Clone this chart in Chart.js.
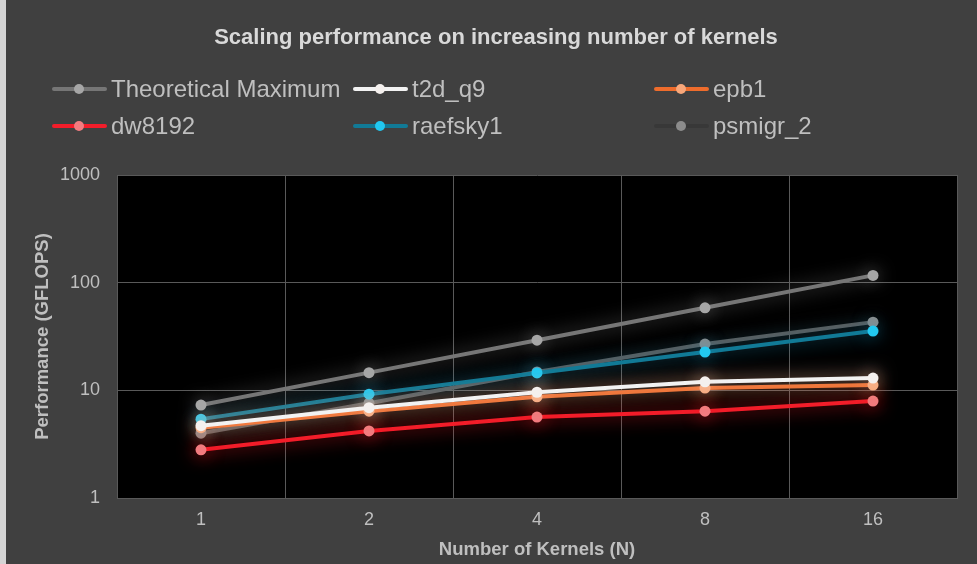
<!DOCTYPE html>
<html>
<head>
<meta charset="utf-8">
<script src="https://cdn.jsdelivr.net/npm/chart.js@4.4.1/dist/chart.umd.min.js"></script>
<style>
  html, body { margin: 0; padding: 0; background: #404040; }
  #wrap { position: relative; width: 977px; height: 564px; }
</style>
</head>
<body>
<div id="wrap"><canvas id="c" width="977" height="564"></canvas></div>
<script>
// Kernel counts on the x axis
const kernels = ['1', '2', '4', '8', '16'];
// Decade ticks of the log performance axis
const perfTicks = [1, 10, 100, 1000];

// GFLOPS per benchmark matrix
const theoreticalMax = [7.3, 14.6, 29.2, 58.4, 116.8];
const t2dQ9 = [4.7, 6.9, 9.6, 12.0, 13.0];
const epb1 = [4.5, 6.4, 8.7, 10.5, 11.2];
const dw8192 = [2.8, 4.2, 5.65, 6.4, 7.95];
const raefsky1 = [5.4, 9.2, 14.5, 22.7, 35.5];
const psmigr2 = [4.0, 7.6, 14.8, 26.9, 43.0];

const FONT = '"Liberation Sans", Arial, sans-serif';

function series(label, data, line, point, glow, legendLine) {
  return {
    label, data,
    borderColor: line,
    backgroundColor: point,
    pointBackgroundColor: point,
    pointBorderColor: point,
    pointRadius: 5.5,
    pointHoverRadius: 5.5,
    pointBorderWidth: 0,
    borderWidth: 4,
    tension: 0,
    glow,
    legendLine: legendLine || line
  };
}

const datasets = [
  series('Theoretical Maximum', theoreticalMax, '#767676', '#a6a6a6', 'rgba(255,255,255,0.4)'),
  series('t2d_q9', t2dQ9, '#f2f2f2', '#f4f0ee', 'rgba(255,225,210,0.7)'),
  series('epb1', epb1, '#ee6c2c', '#f7a77a', 'rgba(240,110,50,0.65)'),
  series('dw8192', dw8192, '#f21d2a', '#f27c80', 'rgba(255,30,40,0.85)'),
  series('raefsky1', raefsky1, '#117a96', '#22c8f0', 'rgba(30,170,220,0.6)'),
  series('psmigr_2', psmigr2, '#5a5a5a', '#8c8c8c', 'rgba(140,140,140,0.3)', '#383838')
];

// Dark frame, black plot area and the thin light strip on the far left
const backdrop = {
  id: 'backdrop',
  beforeDraw(chart) {
    const { ctx, chartArea: a, width, height } = chart;
    ctx.save();
    ctx.fillStyle = '#404040';
    ctx.fillRect(0, 0, width, height);
    ctx.fillStyle = '#d4d4d4';
    ctx.fillRect(0, 0, 6, height);
    ctx.fillStyle = '#000000';
    ctx.fillRect(a.left, a.top, a.right - a.left, a.bottom - a.top);
    ctx.restore();
  }
};

// Soft glow around each line and its markers
const glow = {
  id: 'glow',
  beforeDatasetDraw(chart, args) {
    const ds = chart.data.datasets[args.index];
    const ctx = chart.ctx;
    ctx.save();
    ctx.shadowColor = ds.glow;
    ctx.shadowBlur = 18;
    ctx.shadowOffsetX = 0;
    ctx.shadowOffsetY = 0;
  },
  afterDatasetDraw(chart) {
    chart.ctx.restore();
  }
};

// Title and a three-column legend above the plot
const header = {
  id: 'header',
  afterDraw(chart) {
    const ctx = chart.ctx;
    ctx.save();
    ctx.fillStyle = '#d9d9d9';
    ctx.font = 'bold 22px ' + FONT;
    ctx.textAlign = 'center';
    ctx.textBaseline = 'middle';
    ctx.fillText('Scaling performance on increasing number of kernels', 496, 38);

    const cols = [52, 353, 654];
    const rows = [89, 126];
    ctx.font = '24px ' + FONT;
    ctx.textAlign = 'left';
    chart.data.datasets.forEach((ds, i) => {
      const x = cols[i % 3];
      const y = rows[Math.floor(i / 3)];
      ctx.strokeStyle = ds.legendLine;
      ctx.lineWidth = 4;
      ctx.lineCap = 'round';
      ctx.beginPath();
      ctx.moveTo(x + 2, y);
      ctx.lineTo(x + 53, y);
      ctx.stroke();
      ctx.fillStyle = ds.pointBackgroundColor;
      ctx.beginPath();
      ctx.arc(x + 27, y, 5, 0, Math.PI * 2);
      ctx.fill();
      ctx.fillStyle = '#bfbfbf';
      ctx.fillText(ds.label, x + 59, y + 1);
    });
    ctx.restore();
  }
};

new Chart(document.getElementById('c'), {
  type: 'line',
  data: { labels: kernels, datasets },
  plugins: [backdrop, glow, header],
  options: {
    responsive: false,
    animation: false,
    events: [],
    layout: { padding: { top: 175, right: 20, left: 0, bottom: 0 } },
    plugins: {
      legend: { display: false },
      title: { display: false },
      tooltip: { enabled: false }
    },
    scales: {
      x: {
        type: 'category',
        offset: true,
        grid: { color: '#595959', lineWidth: 1, offset: true, drawTicks: false },
        border: { color: '#595959' },
        ticks: { color: '#bfbfbf', font: { family: FONT, size: 18 }, padding: 11 },
        title: {
          display: true, text: 'Number of Kernels (N)', color: '#bfbfbf',
          font: { family: FONT, size: 18.5, weight: 'bold' }, padding: { top: 2, bottom: 3 }
        },
        afterFit(scale) { scale.height = 66; }
      },
      y: {
        type: 'logarithmic',
        min: 1, max: 1000,
        grid: { color: '#595959', lineWidth: 1, drawTicks: false },
        border: { color: '#595959' },
        afterBuildTicks(scale) { scale.ticks = perfTicks.map(v => ({ value: v })); },
        ticks: {
          color: '#bfbfbf', font: { family: FONT, size: 18 }, padding: 17,
          callback: v => String(v)
        },
        title: {
          display: true, text: 'Performance (GFLOPS)', color: '#bfbfbf',
          font: { family: FONT, size: 18.5, weight: 'bold' }, padding: { top: 32, bottom: 0 }
        },
        afterFit(scale) { scale.width = 117; }
      }
    }
  }
});
</script>
</body>
</html>
